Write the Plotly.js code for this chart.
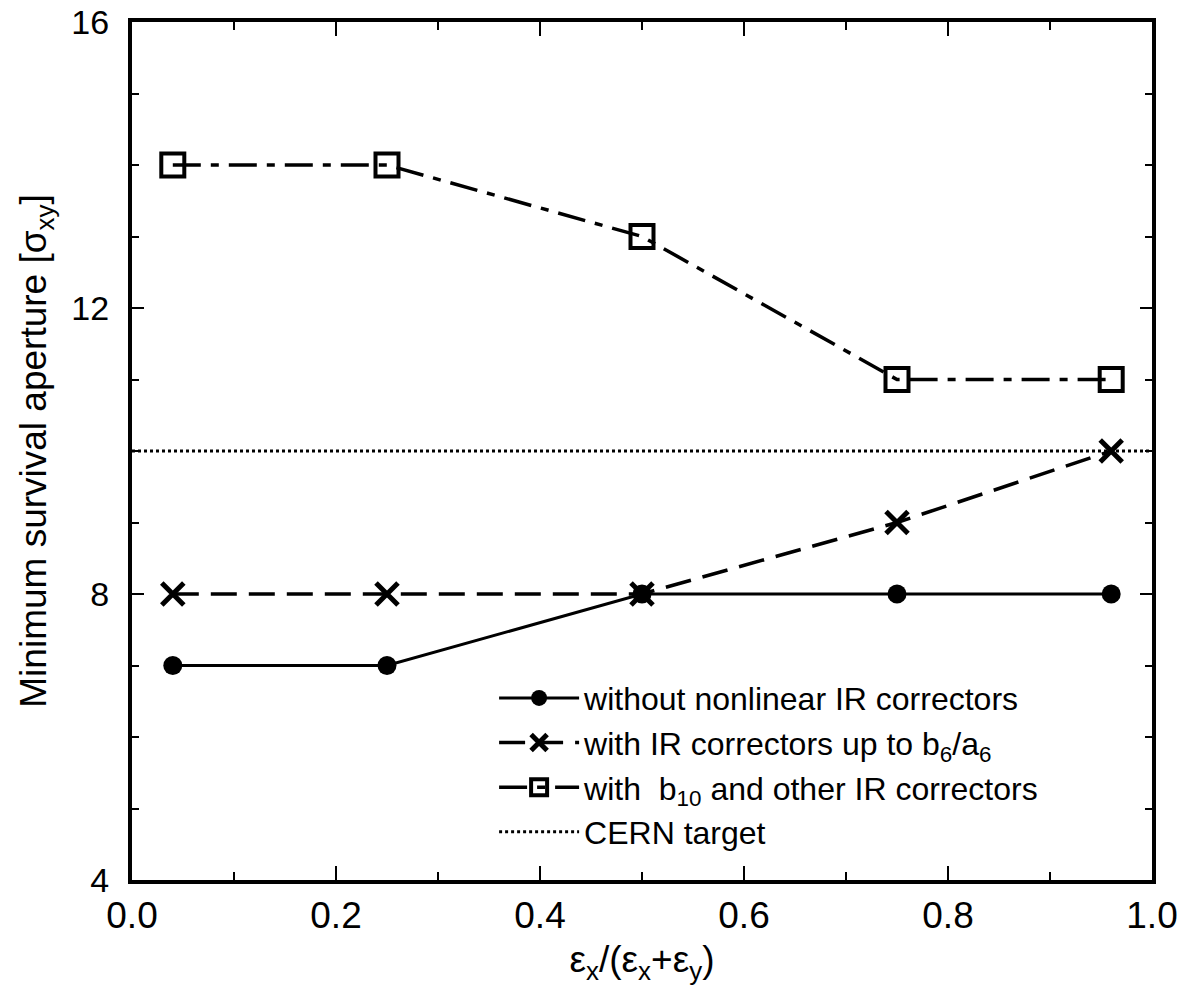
<!DOCTYPE html>
<html>
<head>
<meta charset="utf-8">
<script src="https://cdn.plot.ly/plotly-3.0.1.min.js"></script>
<style>html,body{margin:0;padding:0;background:#fff;}#chart{width:1188px;height:996px;}</style>
</head>
<body>
<div id="chart"></div>
<script>
const xValues = [0.04, 0.25, 0.5, 0.75, 0.96];
const withoutNonlinear = [7, 7, 8, 8, 8];
const upToB6A6 = [8, 8, 8, 9, 10];
const withB10 = [14, 14, 13, 11, 11];
const cernTargetX = [0, 1];
const cernTargetY = [10, 10];
const seriesNames = [
  "without nonlinear IR correctors",
  "with IR correctors up to b<sub>6</sub>/a<sub>6</sub>",
  "with  b<sub>10</sub> and other IR correctors",
  "CERN target"
];
const xTickVals = [0, 0.2, 0.4, 0.6, 0.8, 1.0];
const xTickText = ["0.0", "0.2", "0.4", "0.6", "0.8", "1.0"];
const yTickVals = [4, 8, 12, 16];
const yTickText = ["4", "8", "12", "16"];

const traces = [
  {x: xValues, y: withoutNonlinear, name: seriesNames[0], mode: "lines+markers",
   line: {color: "#000", width: 3, dash: "solid"},
   marker: {symbol: "circle", size: 19, color: "#000"}},
  {x: xValues, y: upToB6A6, name: seriesNames[1], mode: "lines+markers",
   line: {color: "#000", width: 3.5, dash: "26px,12px"},
   marker: {symbol: "x-thin", size: 22, color: "#000", line: {color: "#000", width: 5}}},
  {x: xValues, y: withB10, name: seriesNames[2], mode: "lines+markers",
   line: {color: "#000", width: 3.5, dash: "28px,10px,8px,10px"},
   marker: {symbol: "square-open", size: 23, color: "#000", line: {color: "#000", width: 4}}},
  {x: cernTargetX, y: cernTargetY, name: seriesNames[3], mode: "lines",
   line: {color: "#000", width: 3, dash: "dot"}}
];

const font = "Liberation Sans, Arial, Helvetica, sans-serif";
const layout = {
  width: 1188, height: 996,
  paper_bgcolor: "#fff", plot_bgcolor: "#fff",
  margin: {l: 132, r: 36, t: 22, b: 116},
  showlegend: true,
  font: {family: font, color: "#000", size: 30},
  xaxis: {
    range: [0, 1], showgrid: false, zeroline: false,
    showline: true, linecolor: "#000", linewidth: 4, mirror: "ticks",
    ticks: "inside", ticklen: 14, tickwidth: 2, tickcolor: "#000",
    tickvals: xTickVals, ticktext: xTickText,
    tickfont: {family: font, size: 37, color: "#000"},
    minor: {tickvals: [0.1, 0.3, 0.5, 0.7, 0.9], ticks: "inside", ticklen: 8, tickwidth: 2, tickcolor: "#000"},
    title: {text: "ε<sub>x</sub>/(ε<sub>x</sub>+ε<sub>y</sub>)", font: {family: font, size: 37, color: "#000"}, standoff: 12}
  },
  yaxis: {
    range: [4, 16], showgrid: false, zeroline: false,
    showline: true, linecolor: "#000", linewidth: 4, mirror: "ticks",
    ticks: "inside", ticklen: 12, tickwidth: 2, tickcolor: "#000",
    tickvals: yTickVals, ticktext: yTickText, ticklabelstandoff: 12,
    tickfont: {family: font, size: 34, color: "#000"},
    minor: {dtick: 1, ticks: "inside", ticklen: 7, tickwidth: 2, tickcolor: "#000"},
    title: {text: "Minimum survival aperture [σ<sub>xy</sub>]", font: {family: font, size: 37, color: "#000"}, standoff: 14}
  },
  legend: {
    x: 0.355, y: 0.244, xanchor: "left", yanchor: "top",
    bgcolor: "rgba(0,0,0,0)", borderwidth: 0,
    font: {family: font, size: 32, color: "#000"},
    itemwidth: 80, tracegroupgap: 0
  }
};

Plotly.newPlot("chart", traces, layout, {displayModeBar: false, staticPlot: true});
</script>
</body>
</html>
